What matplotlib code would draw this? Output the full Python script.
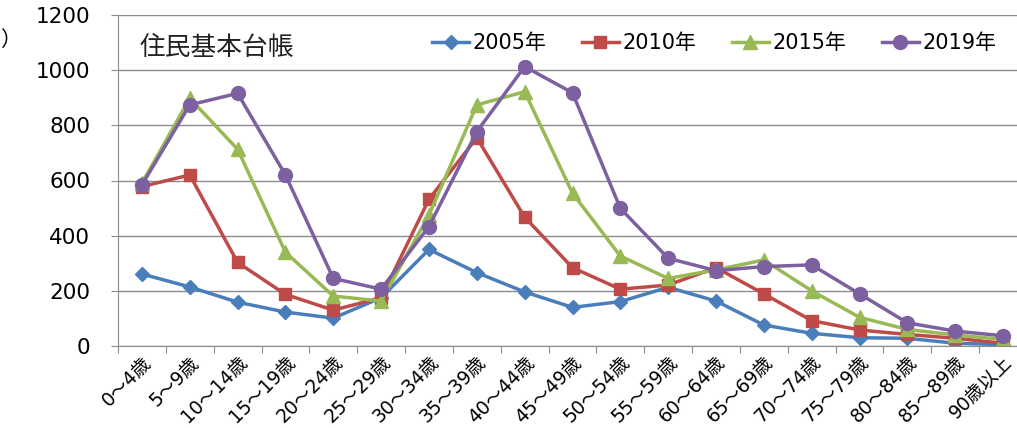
import matplotlib
matplotlib.use('Agg')
import matplotlib.pyplot as plt
import numpy as np

# 年齢階級
kategorien = ['0～4歳', '5～9歳', '10～14歳', '15～19歳', '20～24歳', '25～29歳',
              '30～34歳', '35～39歳', '40～44歳', '45～49歳', '50～54歳', '55～59歳',
              '60～64歳', '65～69歳', '70～74歳', '75～79歳', '80～84歳', '85～89歳',
              '90歳以上']

werte_2005 = [261, 214, 159, 123, 101, 175, 350, 266, 196, 140, 161, 213, 163, 76, 46, 30, 28, 10, 5]
werte_2010 = [578, 620, 303, 187, 130, 175, 532, 755, 467, 284, 206, 221, 284, 189, 92, 58, 42, 28, 10]
werte_2015 = [590, 898, 713, 340, 181, 163, 475, 874, 922, 554, 326, 245, 276, 312, 200, 104, 60, 40, 24]
werte_2019 = [584, 874, 916, 620, 245, 206, 433, 777, 1013, 918, 499, 318, 273, 288, 294, 189, 84, 54, 37]

serien = [
    ('2005年', werte_2005, '#4a7ebb', 'D', 7.5),
    ('2010年', werte_2010, '#be4b48', 's', 8.5),
    ('2015年', werte_2015, '#98b954', '^', 9.5),
    ('2019年', werte_2019, '#7d60a0', 'o', 10),
]

# Ziffern in DejaVu, Kanji aus Noto CJK
mix = ['DejaVu Sans', 'Noto Sans CJK JP']
plt.rcParams['font.family'] = mix

fig = plt.figure(figsize=(10.17, 4.28), dpi=100)
# Achse geht rechts etwas über das Bild hinaus (wie im Original abgeschnitten)
ax = fig.add_axes([118 / 1017, 82 / 428, 909 / 1017, 331 / 428])

x = np.arange(len(kategorien))
for name, werte, farbe, marker, ms in serien:
    ax.plot(x, werte, color=farbe, marker=marker, markersize=ms, linewidth=2.5,
            label=name, markeredgecolor=farbe)

ax.set_xlim(-0.5, len(kategorien) - 0.5)
ax.set_ylim(0, 1200)
ax.set_yticks(np.arange(0, 1201, 200))
ax.yaxis.grid(True, color='#8c8c8c', linewidth=1)
ax.set_axisbelow(True)

# Striche an den Grenzen, Beschriftung in der Mitte
ax.set_xticks(np.arange(-0.5, len(kategorien), 1))
ax.set_xticklabels([])
ax.set_xticks(x, minor=True)
ax.set_xticklabels(kategorien, minor=True, rotation=45, ha='right', va='top',
                   rotation_mode='anchor', fontsize=13.5)
ax.tick_params(axis='x', which='minor', length=0, pad=5)
ax.tick_params(axis='x', which='major', length=5, color='#8c8c8c')
ax.tick_params(axis='y', length=5, color='#8c8c8c', labelsize=15.5, pad=15)

for s in ['top', 'right']:
    ax.spines[s].set_visible(False)
ax.spines['left'].set_color('#8c8c8c')
ax.spines['bottom'].set_color('#8c8c8c')

fig.text(140 / 1017, 1 - 48 / 428, '住民基本台帳', fontsize=18.5, va='center',
         ha='left', color='#222222', family='Noto Sans CJK JP')
fig.text(0.0, 1 - 40 / 428, '）', fontsize=15, va='center', ha='left',
         family='Noto Sans CJK JP')

ax.legend(loc='center', bbox_to_anchor=(714 / 1017, 1 - 43 / 428),
          bbox_transform=fig.transFigure, ncol=4, frameon=False, fontsize=15,
          handlelength=1.8, columnspacing=1.7, handletextpad=0.15)

plt.savefig('out.png', dpi=100)
